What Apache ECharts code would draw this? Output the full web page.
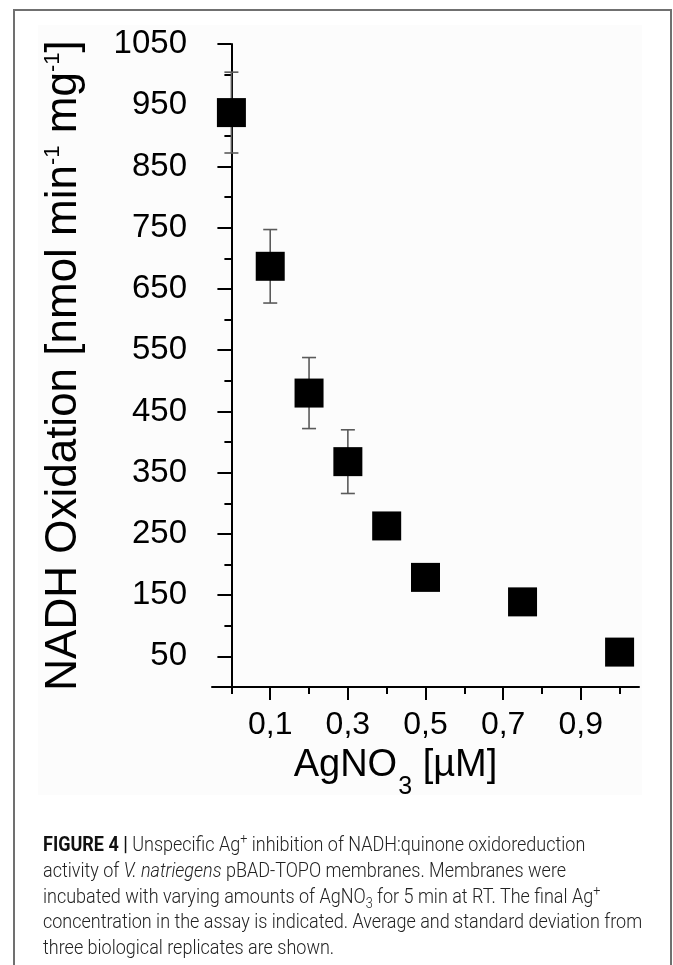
<!DOCTYPE html>
<html>
<head>
<meta charset="utf-8">
<script src="https://cdn.jsdelivr.net/npm/echarts@6/dist/echarts.min.js"></script>
<style>
  html, body { margin: 0; padding: 0; background: #fff; }
  #page { position: relative; width: 673px; height: 965px; overflow: hidden; }
  #frame { position: absolute; left: 13px; top: 9px; width: 655px; height: 970px;
           border: 2px solid #707070; border-bottom: none; }
  #plotBg { position: absolute; left: 38px; top: 25px; width: 604px; height: 770px; background: #fcfcfc; }
  #chart { position: absolute; left: 0; top: 0; width: 673px; height: 965px; }
  #caption { position: absolute; left: 43px; top: 832px; font-family: Roboto, 'Liberation Sans', sans-serif;
             font-weight: 300; font-size: 20px; line-height: 25.8px; color: #222; white-space: nowrap;
             transform: scaleX(0.9); transform-origin: 0 0; }
  #caption b { font-weight: 700; color: #111; }
  #caption sup, #caption sub { font-size: 70%; line-height: 0; }
</style>
</head>
<body>
<div id="page">
  <div id="frame"></div>
  <div id="plotBg"></div>
  <div id="chart"></div>
  <div id="caption">
    <b>FIGURE 4 |</b> Unspecific Ag<sup>+</sup> inhibition of NADH:quinone oxidoreduction<br>
    activity of <i>V. natriegens</i> pBAD-TOPO membranes. Membranes were<br>
    incubated with varying amounts of AgNO<sub>3</sub> for 5 min at RT. The final Ag<sup>+</sup><br>
    concentration in the assay is indicated. Average and standard deviation from<br>
    three biological replicates are shown.
  </div>
</div>
<script>
// AgNO3 concentration (µM) and NADH oxidation (nmol min-1 mg-1)
const concentration = [0, 0.1, 0.2, 0.3, 0.4, 0.5, 0.75, 1.0]
const oxidation = [938, 687, 480, 368, 263, 179, 139, 57]
const stdDev = [66, 60, 58, 52, 18, 15, 12, 10]

// tick positions
const xMajorTicks = [0.1, 0.3, 0.5, 0.7, 0.9]
const xMinorTicks = [0, 0.2, 0.4, 0.6, 0.8, 1.0]
const yMajorTicks = [50, 150, 250, 350, 450, 550, 650, 750, 850, 950, 1050]
const yMinorTicks = [100, 200, 300, 400, 500, 600, 700, 800, 900, 1000]

const FONT = "'Liberation Sans', Arial, sans-serif"
const points = concentration.map((x, i) => [x, oxidation[i]])
const errData = concentration.map((x, i) => [x, oxidation[i], stdDev[i]])

const chart = echarts.init(document.getElementById('chart'), null, { renderer: 'canvas' })

const axisLine = { show: true, lineStyle: { color: '#000', width: 2 } }

chart.setOption({
  animation: false,
  grid: { left: 212, right: 34, top: 44, bottom: 278 },
  xAxis: [
    {
      type: 'value', min: -0.05, max: 1.05, position: 'bottom',
      axisLine, splitLine: { show: false },
      axisTick: { show: true, customValues: xMajorTicks, length: 13, lineStyle: { color: '#000', width: 2 } },
      axisLabel: { customValues: xMajorTicks, margin: 22, fontSize: 32, color: '#000', fontFamily: FONT,
                   formatter: v => v.toFixed(1).replace('.', ',') },
      name: '{a|AgNO}{s|3}{a| [µM]}', nameLocation: 'middle', nameGap: 60,
      nameTextStyle: { fontSize: 38, color: '#000', fontFamily: FONT, padding: [0, 60, 0, 0],
                       rich: {
                         a: { fontSize: 38, fontFamily: FONT, color: '#000', verticalAlign: 'top', lineHeight: 38 },
                         s: { fontSize: 25, fontFamily: FONT, color: '#000', verticalAlign: 'top', lineHeight: 25, padding: [28, 0, 0, 1] }
                       } }
    },
    {
      type: 'value', min: -0.05, max: 1.05, position: 'bottom',
      axisLine: { show: false }, splitLine: { show: false }, axisLabel: { show: false },
      axisTick: { show: true, customValues: xMinorTicks, length: 7, lineStyle: { color: '#000', width: 2 } }
    }
  ],
  yAxis: [
    {
      type: 'value', min: 0, max: 1050, position: 'left',
      axisLine, splitLine: { show: false },
      axisTick: { show: true, customValues: yMajorTicks, length: 14, lineStyle: { color: '#000', width: 2 } },
      axisLabel: { customValues: yMajorTicks, margin: 25, fontSize: 33, color: '#000', fontFamily: FONT,
                   formatter: v => String(v) },
      name: 'NADH Oxidation [nmol min{sup|-1} mg{sup|-1}]', nameLocation: 'middle', nameRotate: 90, nameGap: 126,
      nameTextStyle: { fontSize: 44, color: '#000', fontFamily: FONT,
                       rich: { sup: { fontSize: 22, fontFamily: FONT, color: '#000', verticalAlign: 'top', lineHeight: 22 } } }
    },
    {
      type: 'value', min: 0, max: 1050, position: 'left',
      axisLine: { show: false }, splitLine: { show: false }, axisLabel: { show: false },
      axisTick: { show: true, customValues: yMinorTicks, length: 7, lineStyle: { color: '#000', width: 2 } }
    }
  ],
  series: [
    {
      type: 'custom', name: 'sd', xAxisIndex: 0, yAxisIndex: 0, z: 1,
      data: errData, encode: { x: 0, y: 1 },
      renderItem(params, api) {
        const x = api.value(0), y = api.value(1), e = api.value(2)
        const hi = api.coord([x, y + e]), lo = api.coord([x, y - e])
        const hw = 7
        const style = { stroke: '#5a5a5a', lineWidth: 1.6 }
        return { type: 'group', children: [
          { type: 'line', shape: { x1: hi[0], y1: hi[1], x2: lo[0], y2: lo[1] }, style },
          { type: 'line', shape: { x1: hi[0] - hw, y1: hi[1], x2: hi[0] + hw, y2: hi[1] }, style },
          { type: 'line', shape: { x1: lo[0] - hw, y1: lo[1], x2: lo[0] + hw, y2: lo[1] }, style }
        ] }
      }
    },
    {
      type: 'scatter', name: 'mean', xAxisIndex: 0, yAxisIndex: 0, z: 3,
      data: points, symbol: 'rect', symbolSize: 29,
      itemStyle: { color: '#000', opacity: 1 }
    }
  ]
})
</script>
</body>
</html>
